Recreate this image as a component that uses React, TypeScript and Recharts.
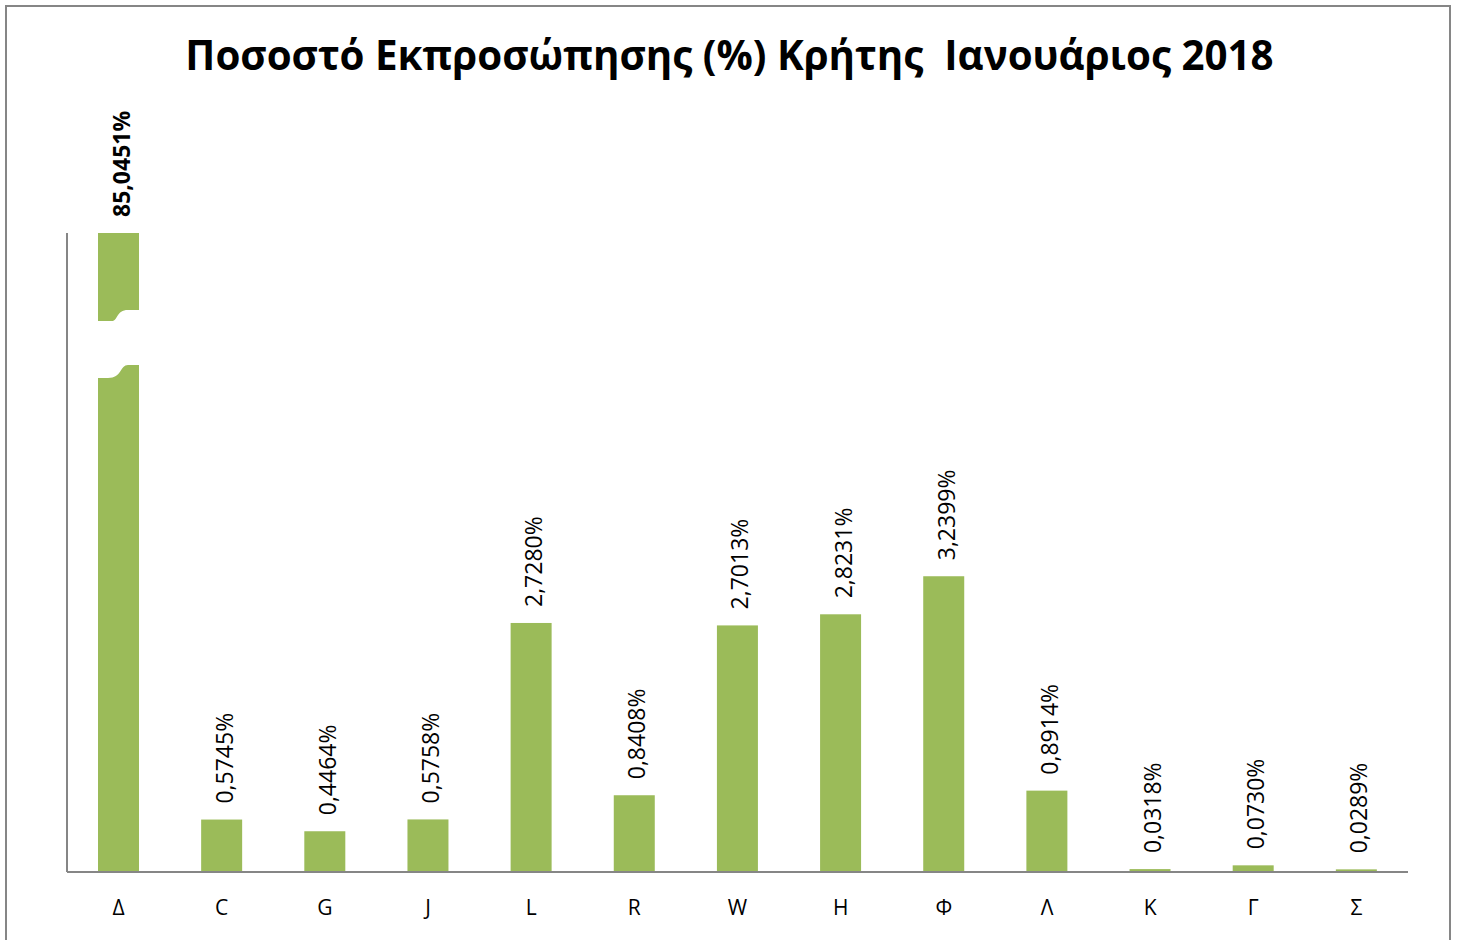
import React from "react";
import { BarChart, Bar, XAxis, YAxis, LabelList } from "recharts";

// ─── Data ─────────────────────────────────────────────────────────────────────

const categories = ["Δ", "C", "G", "J", "L", "R", "W", "H", "Φ", "Λ", "Κ", "Γ", "Σ"];
const shares = [
  85.0451, 0.5745, 0.4464, 0.5758, 2.728, 0.8408, 2.7013, 2.8231, 3.2399,
  0.8914, 0.0318, 0.073, 0.0289,
];
const axisMax = 7; // the Δ bar is broken above this

const TITLE = "Ποσοστό Εκπροσώπησης (%) Κρήτης  Ιανουάριος 2018";

const data = categories.map((name, i) => ({ name, value: shares[i] }));

// ─── Layout ───────────────────────────────────────────────────────────────────

const W = 1459;
const H = 940;
const PLOT_TOP = 233;
const PLOT_LEFT = 67;
const PLOT_RIGHT = 1408;
const AXIS_Y = 872;

const GREEN = "#9BBB59";
const GREY = "#868686";
const FONT = "'Open Sans', sans-serif";

const fmt = (v: number) => v.toFixed(4).replace(".", ",") + "%";

// bar with a break mark when the value runs past the axis
function BrokenBar(props: any) {
  const { x, y, width, height, value } = props;
  const bottom = y + height;
  const top = Math.max(y, PLOT_TOP);
  const v = Array.isArray(value) ? value[1] : value;
  const broken = v > axisMax;
  const t = PLOT_TOP;
  const xl = x - 6;
  const xr = x + width + 15;
  const m1 = x + 14;
  const m2 = x + 30;
  return (
    <g>
      <rect x={x} y={top} width={width} height={bottom - top} fill={GREEN} />
      {broken && (
        <path
          d={`M${xl},${t + 88} L${m1},${t + 88} C${m1 + 6},${t + 88} ${m1 + 4},${t + 77} ${m2},${t + 77}
              L${xr},${t + 77} L${xr},${t + 132} L${m2},${t + 132}
              C${m2 - 8},${t + 132} ${m2 - 6},${t + 145} ${m1 - 4},${t + 145}
              L${xl},${t + 145} Z`}
          fill="#ffffff"
        />
      )}
    </g>
  );
}

function ValueLabel(props: any) {
  const { x, y, width, value } = props;
  const cx = x + width / 2 + 2;
  const top = Math.max(y, PLOT_TOP);
  const bold = value > axisMax;
  const ly = top - 16;
  return (
    <text
      x={cx}
      y={ly}
      transform={`rotate(-90 ${cx} ${ly})`}
      textAnchor="start"
      dominantBaseline="central"
      fontSize={23}
      fontFamily={FONT}
      fontWeight={bold ? 700 : 400}
      fill="#000"
    >
      {fmt(value)}
    </text>
  );
}

export default function App() {
  return (
    <div
      style={{
        position: "absolute",
        left: 0,
        top: 0,
        width: W,
        height: H,
        overflow: "hidden",
        background: "#fff",
      }}
    >
      {/* outer frame */}
      <svg
        width={W}
        height={H}
        style={{ position: "absolute", left: 0, top: 0 }}
      >
        <path
          d={`M6,${H + 10} L6,6 L1450,6 L1450,${H + 10}`}
          fill="none"
          stroke={GREY}
          strokeWidth={2}
        />
      </svg>
      <div
        style={{
          position: "absolute",
          left: 0,
          top: 27,
          width: W,
          textAlign: "center",
          whiteSpace: "pre",
          fontFamily: FONT,
          fontWeight: 700,
          fontSize: 40.3,
          color: "#000",
        }}
      >
        {TITLE}
      </div>
      <div style={{ position: "absolute", left: 0, top: 0 }}>
        <BarChart
          width={W}
          height={H}
          data={data}
          margin={{ top: PLOT_TOP, left: PLOT_LEFT - 1, right: W - PLOT_RIGHT, bottom: 0 }}
        >
          <XAxis
            dataKey="name"
            height={H - AXIS_Y}
            axisLine={{ stroke: GREY, strokeWidth: 2 }}
            tickLine={false}
            tickMargin={22}
            tick={{ fontSize: 21, fill: "#000", fontFamily: FONT }}
            interval={0}
          />
          <YAxis
            width={1}
            domain={[0, axisMax]}
            allowDataOverflow
            tick={false}
            tickLine={false}
            axisLine={{ stroke: GREY, strokeWidth: 2 }}
          />
          <Bar
            dataKey="value"
            barSize={41}
            fill={GREEN}
            shape={<BrokenBar />}
            isAnimationActive={false}
          >
            <LabelList dataKey="value" content={<ValueLabel />} />
          </Bar>
        </BarChart>
      </div>
    </div>
  );
}
